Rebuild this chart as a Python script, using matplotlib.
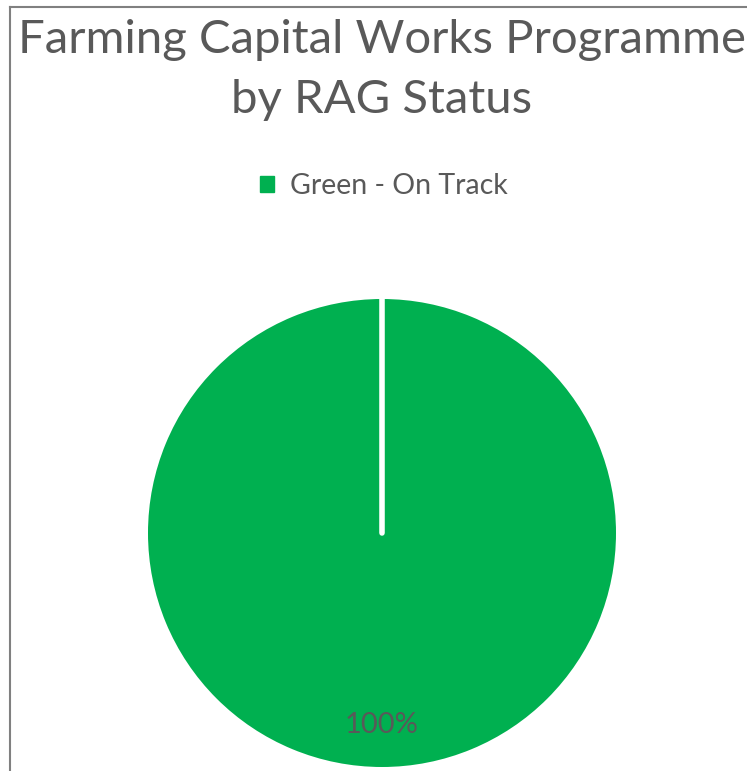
import matplotlib
matplotlib.use("Agg")
import numpy as np
import matplotlib.pyplot as plt
from matplotlib.lines import Line2D
from matplotlib.patches import Patch

labels = ["Green - On Track"]
values = [100]
colors = ["#00B050"]
title = "Farming Capital Works Programme\nby RAG Status"

W, H = 747, 771
fig = plt.figure(figsize=(W/100, H/100), dpi=100)
plt.rcParams['font.family'] = ['Lato', 'DejaVu Sans']
txt = "#595959"

# pie axes
cx, cy, r = 382, 533, 234
ax = fig.add_axes([(cx - r)/W, (H - cy - r)/H, 2*r/W, 2*r/H])
wedges, texts, autotexts = ax.pie(values, colors=colors, startangle=90, counterclock=False,
       autopct='%1.0f%%', pctdistance=0.82,
       wedgeprops=dict(edgecolor='none', linewidth=0),
       textprops=dict(color=txt, fontsize=21))
# white separator at the wedge boundary (full-circle wedge draws no radial edge)
for w in wedges:
    th = np.deg2rad(w.theta1)
    ax.plot([w.center[0], w.center[0] + w.r*np.cos(th)],
            [w.center[1], w.center[1] + w.r*np.sin(th)],
            color='white', lw=4, solid_capstyle='round', zorder=3)
ax.set_xlim(-1.0, 1.0)
ax.set_ylim(-1.0, 1.0)
ax.axis('off')

fig.text(cx/W, 1 - 70/H, title, ha='center', va='center', fontsize=34, color=txt, linespacing=1.55)

handles = [Patch(facecolor=c, edgecolor=c) for c in colors]
fig.legend(handles, labels, loc='center', bbox_to_anchor=(384/W, 1 - 186/H), frameon=False,
           fontsize=20.5, labelcolor=txt, handlelength=0.5, handleheight=0.5, handletextpad=0.55)

# border
fig.add_artist(Line2D([9.5/W, 9.5/W], [0, 1 - 6.5/H], color='#808080', lw=1.5, transform=fig.transFigure))
fig.add_artist(Line2D([9.5/W, 1], [1 - 6.5/H, 1 - 6.5/H], color='#808080', lw=1.5, transform=fig.transFigure))

fig.savefig("out.png", dpi=100)
